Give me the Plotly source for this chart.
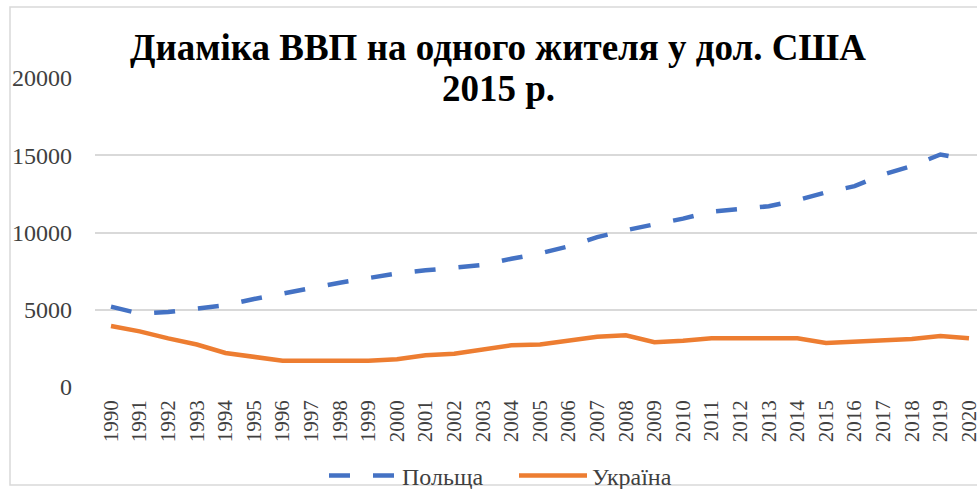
import plotly.graph_objects as go

years = list(range(1990, 2021))
year_labels = [str(y) for y in years]
poland = [5200, 4750, 4850, 5050, 5300, 5700, 6050, 6450, 6750, 7050,
          7350, 7550, 7700, 7900, 8300, 8650, 9100, 9700, 10150, 10500,
          10900, 11350, 11500, 11700, 12100, 12600, 13000, 13750, 14300, 15050,
          14700]
ukraine = [3950, 3600, 3150, 2750, 2200, 1950, 1700, 1700, 1700, 1700,
           1800, 2050, 2150, 2400, 2700, 2750, 3000, 3250, 3350, 2900,
           3000, 3150, 3150, 3150, 3150, 2850, 2950, 3000, 3100, 3300,
           3150]
y_ticks = [0, 5000, 10000, 15000, 20000]
title_lines = ["Диаміка ВВП на одного жителя у дол. США", "2015 р."]

W, H = 977, 489
L, R, T, B = 95, 0, 78, 102
pw = W - L - R
ph = H - T - B
step = 28.6
x_lo = 1990 - (111 - L) / step
x_hi = x_lo + pw / step

serif = "Liberation Serif, Times New Roman, serif"

fig = go.Figure()
fig.add_trace(go.Scatter(
    x=years, y=poland, name="Польща", mode="lines",
    line=dict(color="#4472C4", width=4.5, dash="21px,23px"),
))
fig.add_trace(go.Scatter(
    x=years, y=ukraine, name="Україна", mode="lines",
    line=dict(color="#ED7D31", width=4.5),
))

def px_x(p):
    return (p - L) / pw

def px_y(p):
    return (H - B - p) / ph

fig.add_shape(type="rect", xref="paper", yref="paper",
              x0=px_x(10), x1=px_x(1200), y0=px_y(485), y1=px_y(7),
              line=dict(color="#d9d9d9", width=1.5), fillcolor="rgba(0,0,0,0)",
              layer="below")

for txt, base in zip(title_lines, [61, 102]):
    fig.add_annotation(
        text="<b>" + txt + "</b>", xref="paper", yref="paper",
        x=px_x(498), y=px_y(base), xanchor="center", yanchor="bottom",
        yshift=-9, showarrow=False,
        font=dict(family=serif, size=37, color="black"),
    )

fig.update_layout(
    width=W, height=H,
    margin=dict(l=L, r=R, t=T, b=B, autoexpand=False),
    paper_bgcolor="white", plot_bgcolor="white",
    showlegend=True,
    legend=dict(
        orientation="h", x=px_x(514), xanchor="center",
        y=px_y(476), yanchor="middle",
        font=dict(family=serif, size=24, color="#404040"),
        itemwidth=68, bgcolor="rgba(0,0,0,0)",
        entrywidth=107, entrywidthmode="pixels",
    ),
    xaxis=dict(
        range=[x_lo, x_hi], tickmode="array", tickvals=years, ticktext=year_labels,
        tickangle=-90, showgrid=False, zeroline=False,
        showline=False, ticks="", automargin=False,
        ticklabeloverflow="allow",
        tickfont=dict(family=serif, size=21, color="#404040"),
        ticklabelstandoff=8,
    ),
    yaxis=dict(
        range=[0, 20000], tickmode="array", tickvals=y_ticks,
        ticktext=[str(v) for v in y_ticks],
        showgrid=True, gridcolor="#d9d9d9", gridwidth=1.5,
        zeroline=False, showline=False, ticks="", automargin=False,
        tickfont=dict(family=serif, size=24, color="#404040"),
        ticklabelstandoff=22,
    ),
)

fig.write_html("out.html", config={"displayModeBar": False},
               post_script="document.body.style.margin='0';document.body.style.overflow='hidden';")
